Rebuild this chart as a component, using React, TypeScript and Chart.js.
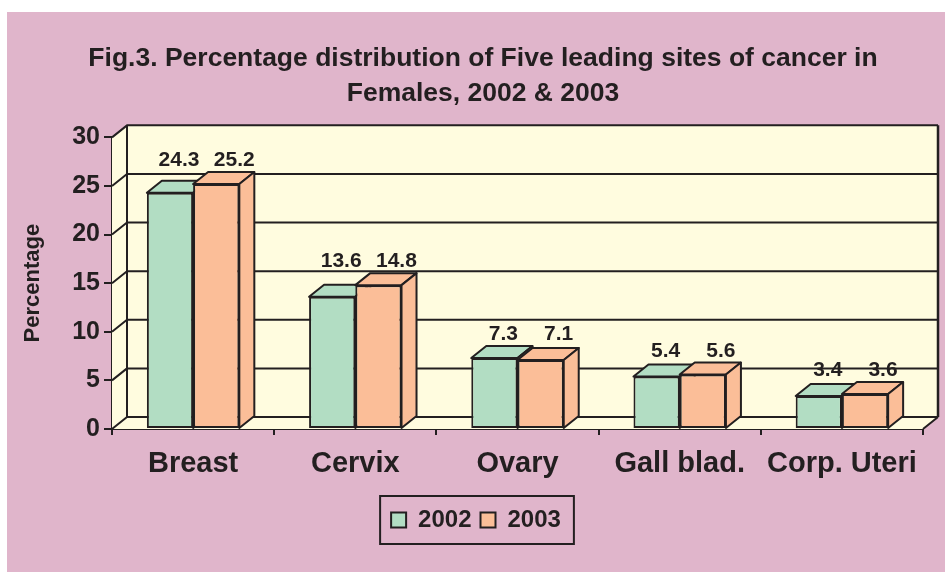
import React, { useEffect, useRef } from 'react';
import { Chart, registerables } from 'chart.js';

Chart.register(...registerables);

const categories = ['Breast', 'Cervix', 'Ovary', 'Gall blad.', 'Corp. Uteri'];
const seriesNames = ['2002', '2003'];
const values2002 = [24.3, 13.6, 7.3, 5.4, 3.4];
const values2003 = [25.2, 14.8, 7.1, 5.6, 3.6];
const yTicks = [0, 5, 10, 15, 20, 25, 30];
const titleLines = [
  'Fig.3. Percentage distribution of Five leading sites of cancer in',
  'Females, 2002 & 2003',
];
const yAxisTitle = 'Percentage';

const INK = '#231F20';
const PINK = '#E0B5CB';
const WALL = '#FFFCDF';
const GREEN = '#B2DDC3';
const ORANGE = '#FBBE98';
const FONT = '"Liberation Sans", Arial, Helvetica, sans-serif';
const DX = 15;
const DY = 12;
const TITLE_SHIFT = 18;
const LEGEND_SHIFT = 11;
const LABEL_OFFSETS = [9, 18];

function poly(ctx: CanvasRenderingContext2D, pts: number[][], fill: boolean, stroke: boolean) {
  ctx.beginPath();
  ctx.moveTo(pts[0][0], pts[0][1]);
  for (let i = 1; i < pts.length; i++) ctx.lineTo(pts[i][0], pts[i][1]);
  ctx.closePath();
  if (fill) ctx.fill();
  if (stroke) ctx.stroke();
}

const threeD = {
  id: 'threeD',
  afterLayout(chart: any) {
    if (chart.titleBlock) {
      chart.titleBlock.left += TITLE_SHIFT;
      chart.titleBlock.right += TITLE_SHIFT;
    }
    if (chart.legend) {
      chart.legend.left += LEGEND_SHIFT;
      chart.legend.right += LEGEND_SHIFT;
    }
  },
  beforeDraw(chart: any) {
    const ctx = chart.ctx;
    ctx.save();
    ctx.fillStyle = '#FFFFFF';
    ctx.fillRect(0, 0, chart.width, chart.height);
    ctx.fillStyle = PINK;
    ctx.fillRect(7, 12, chart.width - 7, chart.height - 12);
    ctx.restore();
  },
  beforeDatasetsDraw(chart: any) {
    const ctx: CanvasRenderingContext2D = chart.ctx;
    const a = chart.chartArea;
    const y = chart.scales.y;
    const L = a.left, R = a.right, T = a.top, B = a.bottom;
    ctx.save();
    ctx.lineWidth = 2;
    ctx.strokeStyle = INK;
    ctx.lineJoin = 'round';
    ctx.fillStyle = WALL;
    ctx.fillRect(L + DX, T - DY, R - L, B - T);
    poly(ctx, [[L, T], [L + DX, T - DY], [L + DX, B - DY], [L, B]], true, false);
    poly(ctx, [[L, B], [R, B], [R + DX, B - DY], [L + DX, B - DY]], true, false);
    for (const v of yTicks) {
      const py = y.getPixelForValue(v);
      ctx.beginPath();
      ctx.moveTo(L, py);
      ctx.lineTo(L + DX, py - DY);
      ctx.lineTo(R + DX, py - DY);
      ctx.stroke();
    }
    ctx.beginPath();
    ctx.moveTo(L + DX, T - DY);
    ctx.lineTo(L + DX, B - DY);
    ctx.moveTo(R, B);
    ctx.lineTo(R + DX, B - DY);
    ctx.stroke();
    ctx.lineWidth = 2.5;
    ctx.beginPath();
    ctx.moveTo(R + DX, B - DY);
    ctx.lineTo(R + DX, T - DY);
    ctx.stroke();
    ctx.lineWidth = 2;
    chart.data.datasets.forEach((ds: any, di: number) => {
      const meta = chart.getDatasetMeta(di);
      ctx.fillStyle = ds.backgroundColor;
      meta.data.forEach((bar: any) => {
        const p = bar.getProps(['x', 'y', 'base', 'width'], true);
        const l = p.x - p.width / 2;
        const r = p.x + p.width / 2;
        const t = p.y;
        const b = p.base;
        poly(ctx, [[l, t], [r, t], [r + DX, t - DY], [l + DX, t - DY]], true, true);
        poly(ctx, [[r, t], [r + DX, t - DY], [r + DX, b - DY], [r, b]], true, true);
      });
    });
    ctx.restore();
  },
  afterDatasetsDraw(chart: any) {
    const ctx: CanvasRenderingContext2D = chart.ctx;
    const y = chart.scales.y;
    ctx.save();
    ctx.fillStyle = INK;
    ctx.font = `bold 21px ${FONT}`;
    ctx.textAlign = 'center';
    ctx.textBaseline = 'alphabetic';
    categories.forEach((_, i) => {
      const vals = chart.data.datasets.map((ds: any) => ds.data[i]);
      const top = y.getPixelForValue(Math.max(...vals));
      const baseline = top - DY - 6;
      chart.data.datasets.forEach((ds: any, di: number) => {
        const bar = chart.getDatasetMeta(di).data[i];
        ctx.fillText(ds.data[i].toFixed(1), bar.x + LABEL_OFFSETS[di], baseline);
      });
    });
    ctx.restore();
  },
  afterDraw(chart: any) {
    const lg = chart.legend;
    if (!lg || !lg.legendHitBoxes || !lg.legendHitBoxes.length) return;
    const hb = lg.legendHitBoxes;
    const first = hb[0];
    const last = hb[hb.length - 1];
    const cy = first.top + first.height / 2;
    const ctx: CanvasRenderingContext2D = chart.ctx;
    ctx.save();
    ctx.strokeStyle = INK;
    ctx.lineWidth = 2;
    ctx.strokeRect(first.left - 11, cy - 24, last.left + last.width - first.left + 24, 48);
    ctx.restore();
  },
};

export default function App() {
  const ref = useRef<HTMLCanvasElement | null>(null);
  useEffect(() => {
    if (!ref.current) return;
    Chart.defaults.font.family = FONT;
    Chart.defaults.color = INK;
    const chart = new Chart(ref.current, {
      type: 'bar',
      data: {
        labels: categories,
        datasets: [
          {
            label: seriesNames[0],
            data: values2002,
            backgroundColor: GREEN,
            borderColor: INK,
            borderWidth: 2,
            borderSkipped: false,
            categoryPercentage: 0.57,
            barPercentage: 1.0,
          },
          {
            label: seriesNames[1],
            data: values2003,
            backgroundColor: ORANGE,
            borderColor: INK,
            borderWidth: 2,
            borderSkipped: false,
            categoryPercentage: 0.57,
            barPercentage: 1.0,
          },
        ],
      },
      options: {
        animation: false,
        responsive: false,
        maintainAspectRatio: false,
        layout: { padding: { left: 7, right: 22, top: 12, bottom: 30 } },
        plugins: {
          title: {
            display: true,
            text: titleLines,
            color: INK,
            font: { size: 26.5, weight: 'bold', lineHeight: 1.29 },
            padding: { top: 30, bottom: 27 },
          },
          legend: {
            display: true,
            position: 'bottom',
            labels: {
              color: INK,
              font: { size: 24, weight: 'bold' },
              boxWidth: 15,
              boxHeight: 15,
              padding: 9,
            },
          },
          tooltip: { enabled: false },
        },
        scales: {
          x: {
            grid: {
              display: true,
              drawOnChartArea: false,
              drawTicks: true,
              tickLength: 6,
              color: INK,
              lineWidth: 2,
              offset: true,
            },
            border: { display: true, color: INK, width: 2 },
            ticks: {
              color: INK,
              font: { size: 29, weight: 'bold' },
              padding: 12,
              maxRotation: 0,
              autoSkip: false,
            },
            afterFit: (s: any) => {
              s.height = 70;
            },
          },
          y: {
            min: yTicks[0],
            max: yTicks[yTicks.length - 1],
            grid: {
              display: true,
              drawOnChartArea: false,
              drawTicks: true,
              tickLength: 8,
              color: INK,
              lineWidth: 2,
            },
            border: { display: true, color: INK, width: 2 },
            ticks: {
              stepSize: yTicks[1] - yTicks[0],
              color: INK,
              font: { size: 25, weight: 'bold' },
              padding: 4,
            },
            title: {
              display: true,
              text: yAxisTitle,
              color: INK,
              font: { size: 22, weight: 'bold' },
              padding: { top: 13, bottom: 0 },
            },
            afterFit: (s: any) => {
              s.width = 105;
            },
          },
        },
      },
      plugins: [threeD],
    });
    return () => chart.destroy();
  }, []);
  return (
    <div style={{ position: 'fixed', left: 0, top: 0, width: 945, height: 572 }}>
      <canvas ref={ref} width={945} height={572} style={{ width: 945, height: 572, display: 'block' }} />
    </div>
  );
}
